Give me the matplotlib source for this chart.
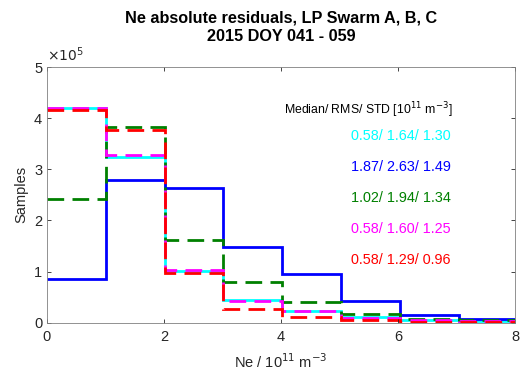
import numpy as np
import matplotlib.pyplot as plt

plt.rcParams['font.family'] = ['Liberation Sans', 'DejaVu Sans']

# histogram bin edges (10^11 m^-3) and counts (x 10^5)
edges = [0, 1.01, 2.01, 3.0, 4.01, 5.02, 6.03, 7.05, 8.06]
cyan_counts = [4.20, 3.25, 1.01, 0.44, 0.23, 0.11, 0.06, 0.03]
blue_counts = [0.85, 2.79, 2.63, 1.49, 0.95, 0.42, 0.15, 0.07]
green_counts = [2.41, 3.83, 1.61, 0.80, 0.40, 0.18, 0.08, 0.05]
magenta_counts = [4.20, 3.27, 1.04, 0.42, 0.22, 0.10, 0.06, 0.03]
red_counts = [4.16, 3.77, 0.97, 0.27, 0.11, 0.05, 0.02, 0.01]

stats = ['0.58/ 1.64/ 1.30', '1.87/ 2.63/ 1.49', '1.02/ 1.94/ 1.34',
         '0.58/ 1.60/ 1.25', '0.58/ 1.29/ 0.96']

series = [
    (cyan_counts, 'cyan', '-'),
    (blue_counts, 'blue', '-'),
    (green_counts, (0, 0.5, 0), (0, (6, 3))),
    (magenta_counts, 'magenta', (0, (6, 3))),
    (red_counts, 'red', (0, (6, 3))),
]

fig = plt.figure(figsize=(5.25, 3.83), dpi=100)
ax = fig.add_axes([0.0895, 0.1574, 0.8915, 0.6676])

for counts, col, ls in series:
    ax.stairs(np.array(counts) * 1e5, edges, color=col, linestyle=ls,
              linewidth=2, baseline=None)

ax.set_xlim(0, 8)
ax.set_ylim(0, 5e5)
ax.set_xticks([0, 2, 4, 6, 8])
ax.set_yticks(np.arange(0, 6) * 1e5)
ax.set_yticklabels([str(i) for i in range(6)])
grey = (0.15, 0.15, 0.15)
ax.tick_params(direction='in', top=True, right=True, labelsize=10.5,
               colors=grey, length=3, width=0.6)
ax.tick_params(axis='x', pad=5)
for s in ax.spines.values():
    s.set_color((0.5, 0.5, 0.5))
    s.set_linewidth(0.6)

ax.text(0.0, 1.01, r'$\times10^5$', transform=ax.transAxes, fontsize=10,
        color=grey, ha='left', va='bottom')

ax.set_xlabel(r'Ne / 10$^{11}$ m$^{-3}$', fontsize=10.5, color=grey, labelpad=6)
ax.set_ylabel('Samples', fontsize=10.5, color=grey, labelpad=4)
ax.set_title('Ne absolute residuals, LP Swarm A, B, C\n2015 DOY 041 - 059',
             fontsize=11.7, fontweight='bold', pad=19, linespacing=1.3)

ax.text(6.94, 4.15e5, r'Median/ RMS/ STD [10$^{11}$ m$^{-3}$]', fontsize=8.8,
        ha='right', va='center', color='black')
for i, (txt, (counts, col, ls)) in enumerate(zip(stats, series)):
    ax.text(6.9, (3.65 - 0.605 * i) * 1e5, txt, fontsize=10.4, color=col,
            ha='right', va='center')

fig.savefig('out.png', dpi=100)
